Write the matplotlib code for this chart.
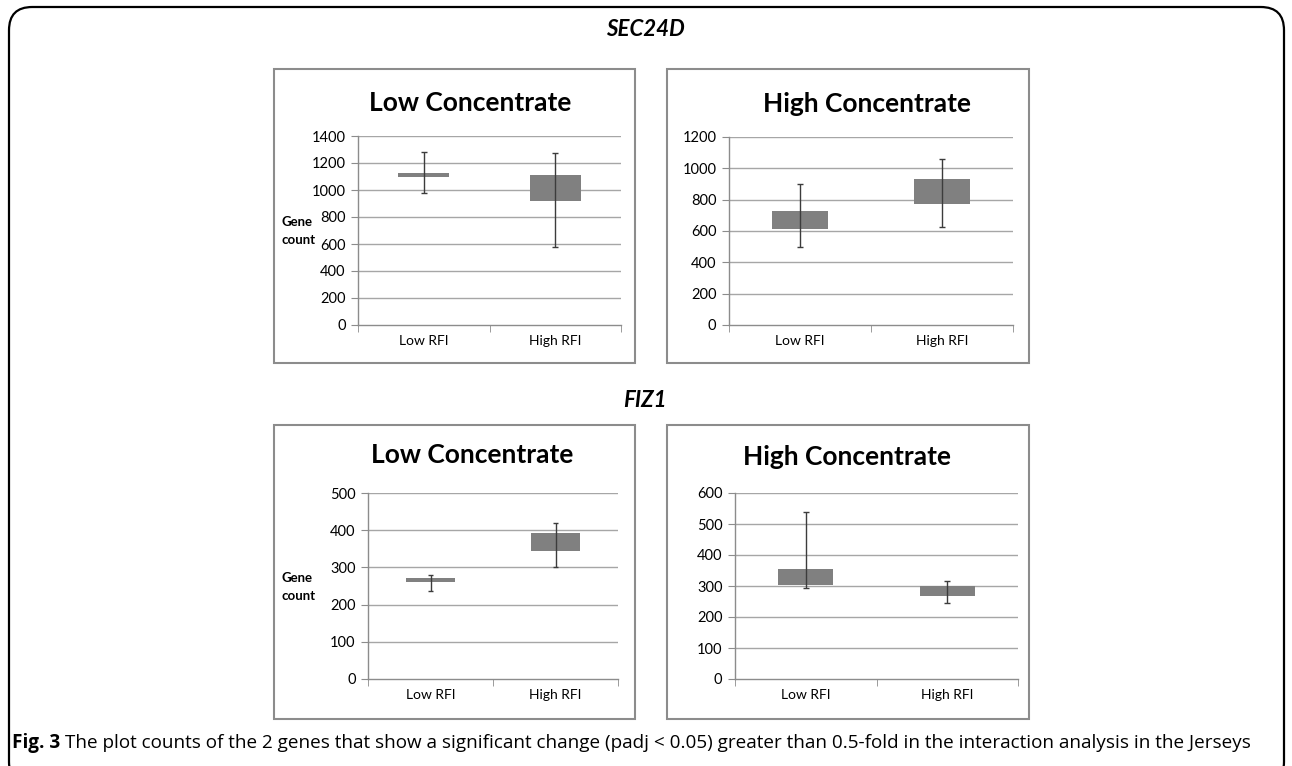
import matplotlib
matplotlib.use('Agg')
import numpy as np
import matplotlib.pyplot as plt
from matplotlib.patches import Rectangle, FancyBboxPatch

W, H = 1292, 766

groups = ['Low RFI', 'High RFI']

# SEC24D, low concentrate
sec24d_low_q1 = [1095, 915]
sec24d_low_q3 = [1125, 1110]
sec24d_low_min = [980, 580]
sec24d_low_max = [1280, 1275]

# SEC24D, high concentrate
sec24d_high_q1 = [610, 775]
sec24d_high_q3 = [730, 930]
sec24d_high_min = [500, 625]
sec24d_high_max = [900, 1060]

# FIZ1, low concentrate
fiz1_low_q1 = [260, 345]
fiz1_low_q3 = [272, 393]
fiz1_low_min = [237, 302]
fiz1_low_max = [279, 420]

# FIZ1, high concentrate
fiz1_high_q1 = [303, 268]
fiz1_high_q3 = [356, 300]
fiz1_high_min = [292, 245]
fiz1_high_max = [540, 316]

caption_bold = 'Fig. 3'
caption_text = ('The plot counts of the 2 genes that show a significant change (padj < 0.05) '
                'greater than 0.5-fold in the interaction analysis in the Jerseys')

CHART_FONT = ['Lato', 'DejaVu Sans']
CAPTION_FONT = ['Open Sans', 'DejaVu Sans']


def fx(x):
    return x / W


def fy(y):
    return 1 - y / H


def frame(x0, y0, x1, y1):
    # grey chart-area border
    r = Rectangle((fx(x0), fy(y1)), fx(x1) - fx(x0), fy(y0) - fy(y1),
                  transform=fig.transFigure, fill=False, ec='#8c8c8c', lw=1.5)
    fig.add_artist(r)


def panel(rect, title, title_xy, q1, q3, lo, hi, ymax, step, ylabel_xy=None):
    x0, y0, x1, y1 = rect
    ax = fig.add_axes([fx(x0), fy(y1), fx(x1) - fx(x0), fy(y0) - fy(y1)])
    x = np.arange(1, len(groups) + 1)
    q1 = np.array(q1)
    q3 = np.array(q3)
    ax.bar(x, q3 - q1, bottom=q1, width=0.39, color='#808080', zorder=2)
    ax.vlines(x, lo, hi, color='#3c3c3c', lw=1.0, zorder=3)
    ax.hlines(lo, x - 0.022, x + 0.022, color='#3c3c3c', lw=1.0, zorder=3)
    ax.hlines(hi, x - 0.022, x + 0.022, color='#3c3c3c', lw=1.0, zorder=3)

    ax.set_xlim(0.5, len(groups) + 0.5)
    ax.set_ylim(0, ymax)
    ticks = np.arange(0, ymax + 1, step)
    ax.set_yticks(ticks)
    ax.set_yticklabels([str(t) for t in ticks], family=CHART_FONT, fontsize=10.5)
    for t in ticks[1:]:
        ax.axhline(t, color='#a6a6a6', lw=1.0, zorder=1)

    ax.set_xticks(x)
    ax.set_xticklabels(groups, family=CHART_FONT, fontsize=10)
    ax.set_xticks(np.arange(0.5, len(groups) + 1, 1.0), minor=True)
    ax.tick_params(axis='x', which='major', length=0, pad=7)
    ax.tick_params(axis='x', which='minor', length=5, color='#8c8c8c', direction='out')
    ax.tick_params(axis='y', length=5, color='#8c8c8c', direction='out', pad=4)

    for s in ['top', 'right']:
        ax.spines[s].set_visible(False)
    for s in ['left', 'bottom']:
        ax.spines[s].set_color('#8c8c8c')
        ax.spines[s].set_linewidth(1.0)
    ax.set_facecolor('none')

    fig.text(fx(title_xy[0]), fy(title_xy[1]), title, ha='center', va='center',
             family=CHART_FONT, fontsize=19, fontweight='bold')
    if ylabel_xy is not None:
        fig.text(fx(ylabel_xy[0]), fy(ylabel_xy[1]), 'Gene\ncount', ha='left',
                 va='center', family=CHART_FONT, fontsize=9.5, fontweight='bold',
                 linespacing=1.6)
    return ax


fig = plt.figure(figsize=(W / 100, H / 100), dpi=100)
fig.patch.set_facecolor('white')

# outer rounded border (bottom edge runs off the picture)
border = FancyBboxPatch((fx(9), fy(785)), fx(1284) - fx(9), fy(7) - fy(785),
                        boxstyle='round,pad=0,rounding_size=0.018',
                        transform=fig.transFigure, fill=False, ec='black', lw=1.6,
                        mutation_aspect=W / H)
fig.add_artist(border)

frame(274, 69, 635, 363)
frame(667, 69, 1029, 363)
frame(274, 425, 635, 719)
frame(667, 425, 1029, 719)

fig.text(fx(645), fy(30), 'SEC24D', ha='center', va='center', family=CHART_FONT,
         fontsize=16, fontweight='bold', style='italic')
fig.text(fx(645), fy(400), 'FIZ1', ha='center', va='center', family=CHART_FONT,
         fontsize=16, fontweight='bold', style='italic')

panel((358, 136, 621, 325), 'Low Concentrate', (470, 103),
      sec24d_low_q1, sec24d_low_q3, sec24d_low_min, sec24d_low_max, 1400, 200,
      ylabel_xy=(282, 231))
panel((729, 137, 1013, 325), 'High Concentrate', (867, 104),
      sec24d_high_q1, sec24d_high_q3, sec24d_high_min, sec24d_high_max, 1200, 200)
panel((368, 493, 618, 679), 'Low Concentrate', (472, 455),
      fiz1_low_q1, fiz1_low_q3, fiz1_low_min, fiz1_low_max, 500, 100,
      ylabel_xy=(282, 587))
panel((735, 493, 1018, 679), 'High Concentrate', (847, 457),
      fiz1_high_q1, fiz1_high_q3, fiz1_high_min, fiz1_high_max, 600, 100)

# caption: bold label followed by plain text, sized to span the reference width
size = 10.5
cap = fig.text(fx(12), fy(743), caption_bold, ha='left', va='center',
               family=CAPTION_FONT, fontsize=size, fontweight='bold')
body = fig.text(0, fy(743), caption_text, ha='left', va='center',
                family=CAPTION_FONT, fontsize=size)
fig.canvas.draw()
r = fig.canvas.get_renderer()
total = cap.get_window_extent(r).width + 5 + body.get_window_extent(r).width
size = size * (1244 - 5) / (total - 5)
cap.set_fontsize(size)
body.set_fontsize(size)
fig.canvas.draw()
bb = cap.get_window_extent(r)
body.set_x((bb.x1 + 5) / W)

fig.savefig('out.png', dpi=100)
